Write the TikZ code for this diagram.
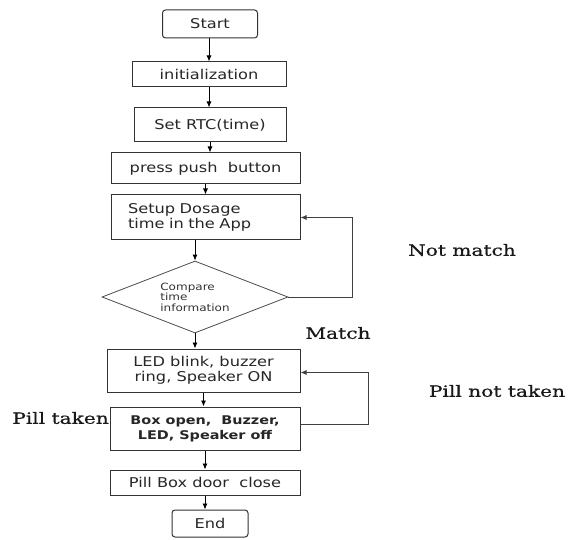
\documentclass[tikz,border=0pt]{standalone}
\usepackage{fontspec}
\newfontfamily\boxfont[FakeStretch=1.2]{DejaVu Sans}
\newfontfamily\lblfont[FakeStretch=1.3,FakeBold=0.6]{DejaVu Serif}
\usetikzlibrary{arrows.meta,shapes.geometric}
\begin{document}
\begin{tikzpicture}[x=1pt,y=-1pt,
  box/.style={draw=black!80, line width=1pt, inner sep=0pt, text=black!85, align=center,
    font=\boxfont\fontsize{13.5}{15}\selectfont},
  term/.style={box, rounded corners=3pt},
  arr/.style={-{Latex[length=6pt,width=5pt]}, line width=0.9pt, black},
  backarr/.style={-{Latex[length=6pt,width=5pt]}, line width=0.8pt, draw=black!75},
  lbl/.style={font=\lblfont\fontsize{15.5}{17}\selectfont, text=black!90, inner sep=0pt},
]
\useasboundingbox (0,0) rectangle (581,540);

\node[term, minimum width=95pt, minimum height=28pt] (start) at (210,24) {Start};
\node[box, minimum width=154pt, minimum height=25pt] (init) at (209,74.5) {initialization};
\node[box, minimum width=152pt, minimum height=34pt] (rtc) at (210,125) {Set RTC(time)};
\node[box, minimum width=189pt, minimum height=31pt] (press) at (205.5,168.5) {press push\ \ button};
\node[box, minimum height=45pt, text width=155pt, inner xsep=17pt, align=left] (setup) at (205.5,217.5) {Setup Dosage\\time in the App};
\node[draw=black!70, line width=0.8pt, diamond, aspect=2.58, minimum width=186pt, minimum height=72pt,
  inner sep=0pt, align=left, text=black!80, font=\boxfont\fontsize{10}{10.5}\selectfont] (dia) at (195,297) {Compare\\time\\information};
\node[box, minimum width=193pt, minimum height=43pt] (led) at (203.5,370.5) {LED blink, buzzer\\ring, Speaker ON};
\node[box, minimum width=190pt, minimum height=43pt, font=\boxfont\bfseries\fontsize{12}{15}\selectfont] (open) at (205,428.5) {Box open,\ \ Buzzer,\\LED, Speaker off};
\node[box, minimum width=190pt, minimum height=25pt] (door) at (205,482.5) {Pill Box door\ \ close};
\node[term, minimum width=76pt, minimum height=27pt] (end) at (210,523.5) {End};

\node[lbl] (notmatch) at (462,250) {Not match};
\node[lbl] (match) at (338,333) {Match};
\node[lbl] (pillnot) at (497,391) {Pill not taken};
\node[lbl, anchor=east] (pilltaken) at (109,418) {Pill taken};

\draw[arr] (start.south -| init.north) -- (init.north);
\draw[arr] (init.south) -- (init.south |- rtc.north);
\draw[arr] (rtc.south) -- (rtc.south |- press.north);
\draw[arr] (press.south) -- (press.south |- setup.north);
\draw[arr] (setup.south -| dia.north) -- (dia.north);
\draw[arr] (dia.south) -- (dia.south |- led.north);
\draw[arr] (led.south) -- (led.south |- open.north);
\draw[arr] (open.south) -- (open.south |- door.north);
\draw[arr] (door.south) -- (door.south |- end.north);

\draw[backarr] (dia.east) -- ++(64,0) |- (setup.east);
\draw[backarr] (open.east) ++(0,-4) -- ++(68,0) |- ([yshift=-2pt]led.east);
\end{tikzpicture}
\end{document}
